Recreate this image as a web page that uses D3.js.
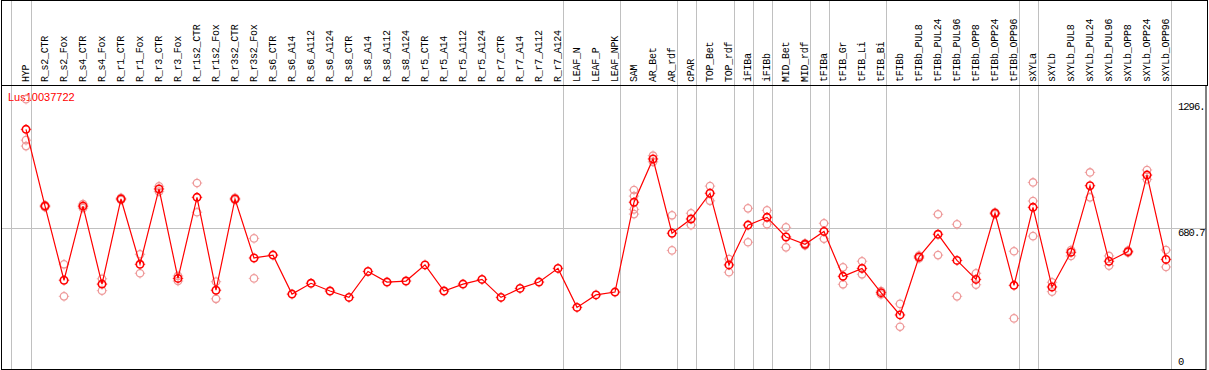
<!DOCTYPE html>
<html>
<head>
<meta charset="utf-8">
<script src="https://cdnjs.cloudflare.com/ajax/libs/d3/7.8.5/d3.min.js"></script>
<style>
  body { margin: 0; background: #fff; }
  svg { display: block; }
</style>
</head>
<body>
<svg id="chart" width="1209" height="370"></svg>
<script>
// samples on x
var categories = ["HYP","R_s2_CTR","R_s2_Fox","R_s4_CTR","R_s4_Fox","R_r1_CTR","R_r1_Fox","R_r3_CTR","R_r3_Fox",
  "R_r1s2_CTR","R_r1s2_Fox","R_r3s2_CTR","R_r3s2_Fox","R_s6_CTR","R_s6_A14","R_s6_A112","R_s6_A124",
  "R_s8_CTR","R_s8_A14","R_s8_A112","R_s8_A124","R_r5_CTR","R_r5_A14","R_r5_A112","R_r5_A124",
  "R_r7_CTR","R_r7_A14","R_r7_A112","R_r7_A124","LEAF_N","LEAF_P","LEAF_NPK","SAM","AR_Bet","AR_rdf",
  "cPAR","TOP_Bet","TOP_rdf","iFIBa","iFIBb","MID_Bet","MID_rdf","tFIBa","tFIB_Gr","tFIB_Li","tFIB_Bi",
  "tFIBb","tFIBb_PUL8","tFIBb_PUL24","tFIBb_PUL96","tFIBb_OPP8","tFIBb_OPP24","tFIBb_OPP96",
  "sXYLa","sXYLb","sXYLb_PUL8","sXYLb_PUL24","sXYLb_PUL96","sXYLb_OPP8","sXYLb_OPP24","sXYLb_OPP96"];

// mean expression (bold points)
var means = [1164,788,425,788,406,823,503,872,434,
  831,376,823,534,548,357,410,372,
  341,468,416,421,500,372,406,429,
  341,385,416,483,292,353,367,807,1019,655,
  725,851,500,695,733,637,601,664,444,483,364,
  255,539,650,522,429,753,400,
  782,392,562,888,518,565,940,527];

// replicates (faint points)
var replicates = [[1312,1111,1082],[793,783],[503,346],[798,778],[432,374],[828,818],[552,459],[885,859],[446,421],
  [901,758],[418,334],[828,818],[630,434],[],[],[],[],
  [],[],[],[],[],[],[],[],
  [],[],[],[],[],[],[],[867,837,772,749],[1035,1005],[743,571],
  [753,695],[886,814],[529,464],[777,611],[767,699],[684,586],[606,596],[704,628],[488,405],[518,454],[372,356],
  [309,197],[546,532],[748,548],[699,346],[459,403],[758,748],[567,238],
  [904,813,641],[415,369],[573,544],[953,831],[544,496],[570,560],[965,919],[573,490]];

// last sample of each group (gray separators)
var groupEnds = ["HYP","R_r7_A124","LEAF_NPK","AR_rdf","cPAR","TOP_rdf","iFIBa","iFIBb","MID_rdf",
  "tFIBa","tFIB_Bi","tFIBb_OPP96","sXYLa","sXYLb_OPP96"];

var tickValues = [1296, 680.7, 0];
var tickLabels = ["1296.", "680.7", "0"];
var gridValues = [680.7];
var geneName = "Lus10037722";

var svg = d3.select("#chart");
var headerBottom = 85, plotBottom = 369, plotRight = 1206;

var x = d3.scalePoint().domain(categories).range([26, 1166]);
var step = x.step();
var y = d3.scaleLinear().domain([0, 1296]).range([367, 102.4]);

// vertical separators
var sepX = [x(categories[0]) - step + 4.2].concat(groupEnds.map(function(c) { return x(c) + 4.7; }));
svg.append("g").selectAll("line").data(sepX).enter().append("line")
  .attr("x1", function(d) { return Math.round(d) + 0.5; })
  .attr("x2", function(d) { return Math.round(d) + 0.5; })
  .attr("y1", 0).attr("y2", plotBottom)
  .attr("stroke", "#c0c0c0").attr("stroke-width", 1);

// horizontal grid
svg.append("g").selectAll("line").data(gridValues).enter().append("line")
  .attr("x1", 1).attr("x2", plotRight)
  .attr("y1", function(d) { return Math.round(y(d)) + 0.5; })
  .attr("y2", function(d) { return Math.round(y(d)) + 0.5; })
  .attr("stroke", "#c0c0c0");

// frames
svg.append("rect").attr("x", 1.5).attr("y", 0.5).attr("width", 1206).attr("height", headerBottom)
  .attr("fill", "none").attr("stroke", "#000");
svg.append("rect").attr("x", 1.5).attr("y", headerBottom + 0.5).attr("width", plotRight - 1.5)
  .attr("height", plotBottom - headerBottom).attr("fill", "none").attr("stroke", "#000");

// column labels
svg.append("g").selectAll("text").data(categories).enter().append("text")
  .attr("transform", function(d) { return "translate(" + x(d) + ",82) rotate(-90)"; })
  .attr("dy", "0.3em")
  .attr("font-family", "Liberation Mono")
  .attr("font-size", "10px")
  .attr("letter-spacing", "-0.25px")
  .attr("fill", "#000")
  .text(function(d) { return d; });

// right axis labels
svg.append("g").selectAll("text").data(tickValues).enter().append("text")
  .attr("x", 1178)
  .attr("y", function(d, i) { return Math.min(y(d) + 8, 365); })
  .attr("font-family", "Liberation Mono")
  .attr("font-size", "10.5px")
  .attr("letter-spacing", "-1px")
  .text(function(d, i) { return tickLabels[i]; });

svg.append("text").attr("x", 8).attr("y", 101)
  .attr("font-family", "Liberation Sans").attr("font-size", "11px")
  .attr("fill", "#f00").text(geneName);

function marker(g, cx, cy, color, sw) {
  g.append("circle").attr("cx", cx).attr("cy", cy).attr("r", 3.7)
    .attr("fill", "none").attr("stroke", color).attr("stroke-width", sw);
  var t = [[0, -1], [0, 1], [-1, 0], [1, 0]];
  t.forEach(function(v) {
    g.append("line")
      .attr("x1", cx + v[0] * 4.2).attr("y1", cy + v[1] * 4.2)
      .attr("x2", cx + v[0] * 5.2).attr("y2", cy + v[1] * 5.2)
      .attr("stroke", color).attr("stroke-width", 1);
  });
}

// replicate points
var rg = svg.append("g");
categories.forEach(function(c, i) {
  replicates[i].forEach(function(v) { marker(rg, x(c), y(v), "#ee9a9a", 1.3); });
});

// mean line
var line = d3.line()
  .x(function(d, i) { return x(categories[i]); })
  .y(function(d) { return y(d); });
svg.append("path").datum(means).attr("d", line)
  .attr("fill", "none").attr("stroke", "#f00").attr("stroke-width", 1.2);

var mg = svg.append("g");
means.forEach(function(v, i) { marker(mg, x(categories[i]), y(v), "#f00", 1.6); });
</script>
</body>
</html>
